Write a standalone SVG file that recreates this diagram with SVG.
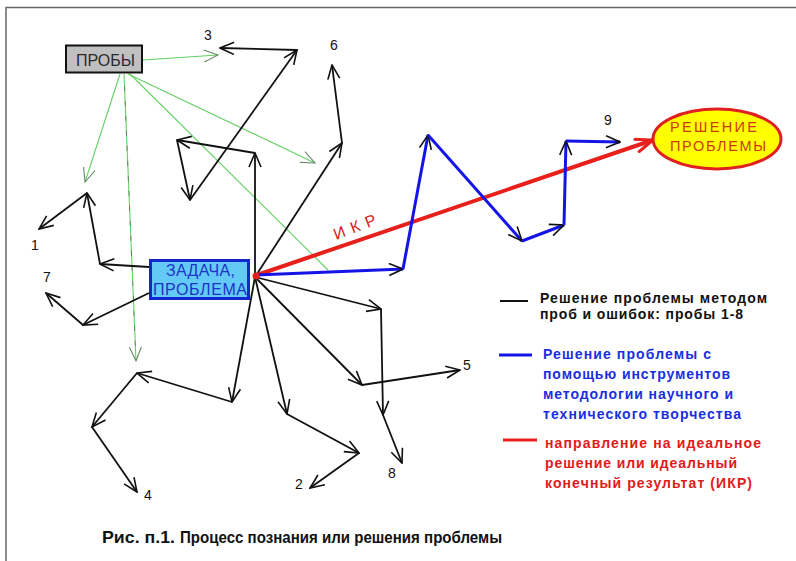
<svg xmlns="http://www.w3.org/2000/svg" width="796" height="561" viewBox="0 0 796 561">
<style>
text{font-family:"Liberation Sans",Arial,sans-serif}
.blk{stroke:#111;stroke-width:1.8;fill:none;marker-end:url(#ah)}
.blu{stroke:#1414e6;stroke-width:3;fill:none;marker-end:url(#ah)}
.grn{stroke:#62d062;stroke-width:1.1;fill:none}
.num{font-size:14px;fill:#111;text-anchor:middle}
.lg{font-size:14px;font-weight:bold}
</style>
<defs>
<marker id="ah" viewBox="0 0 16 14" refX="15" refY="7" markerWidth="16" markerHeight="14" orient="auto" markerUnits="userSpaceOnUse">
<path d="M1,1 L15,7 L1,13" fill="none" stroke="#111" stroke-width="1.6"/>
</marker>
<marker id="ahg" viewBox="0 0 16 14" refX="15" refY="7" markerWidth="16" markerHeight="14" orient="auto" markerUnits="userSpaceOnUse">
<path d="M1,1 L15,7 L1,13" fill="none" stroke="#6a8a6a" stroke-width="1.1"/>
</marker>
<marker id="ahr" viewBox="0 0 20 16" refX="19" refY="8" markerWidth="20" markerHeight="16" orient="auto" markerUnits="userSpaceOnUse">
<path d="M1,1 L19,8 L1,15" fill="none" stroke="#e8201c" stroke-width="3"/>
</marker>
</defs>
<rect width="796" height="561" fill="#fff"/>
<g id="frame" stroke="#666" stroke-width="1.5" fill="none">
<path d="M6,561 V7.5 H796"/>
</g>
<g id="connectors">
<g id="green-lines">
<line class="grn" x1="143" y1="60" x2="218" y2="55" marker-end="url(#ahg)"/>
<line class="grn" x1="120" y1="74" x2="85" y2="182" marker-end="url(#ahg)"/>
<line class="grn" x1="124" y1="74" x2="136" y2="361" marker-end="url(#ahg)"/>
<line x1="124.5" y1="86" x2="135.5" y2="350" stroke="#555" stroke-width="1" stroke-dasharray="5 10" opacity="0.6"/>
<line class="grn" x1="128" y1="74" x2="315" y2="163" marker-end="url(#ahg)"/>
<line class="grn" x1="130" y1="74" x2="328" y2="270"/>
</g>
<g id="trial-1">
<line class="blk" x1="149" y1="267" x2="100" y2="264"/>
<line class="blk" x1="100" y1="264" x2="87" y2="193"/>
<line class="blk" x1="87" y1="193" x2="39" y2="229"/>
</g>
<g id="trial-7">
<line class="blk" x1="149" y1="293" x2="83" y2="325"/>
<line class="blk" x1="83" y1="325" x2="46" y2="293"/>
</g>
<g id="trial-4">
<line class="blk" x1="255" y1="277" x2="232" y2="402"/>
<line class="blk" x1="232" y1="402" x2="137" y2="373"/>
<line class="blk" x1="137" y1="373" x2="92" y2="427"/>
<line class="blk" x1="92" y1="427" x2="137" y2="492"/>
</g>
<g id="trial-2">
<line class="blk" x1="255" y1="277" x2="287" y2="414"/>
<line class="blk" x1="287" y1="414" x2="359" y2="453"/>
<line class="blk" x1="359" y1="453" x2="310" y2="488"/>
</g>
<g id="trial-5">
<line class="blk" x1="255" y1="277" x2="362" y2="385"/>
<line class="blk" x1="362" y1="385" x2="460" y2="370"/>
</g>
<g id="trial-8">
<line class="blk" x1="255" y1="277" x2="381" y2="309"/>
<line class="blk" x1="381" y1="309" x2="383" y2="415"/>
<line class="blk" x1="383" y1="415" x2="402" y2="463"/>
</g>
<g id="trial-3">
<line class="blk" x1="255" y1="277" x2="255" y2="153"/>
<line class="blk" x1="255" y1="153" x2="177" y2="140"/>
<line class="blk" x1="177" y1="140" x2="190" y2="200"/>
<line class="blk" x1="190" y1="200" x2="297" y2="50"/>
<line class="blk" x1="297" y1="50" x2="220" y2="48"/>
</g>
<g id="trial-6">
<line class="blk" x1="255" y1="277" x2="342" y2="143"/>
<line class="blk" x1="342" y1="143" x2="332" y2="65"/>
</g>
<g id="ikr-line">
<line x1="257" y1="275" x2="653" y2="140" stroke="#e8201c" stroke-width="4" marker-end="url(#ahr)"/>
<text x="336" y="240" transform="rotate(-21 336 240)" font-size="16" fill="#d42020" letter-spacing="1">И К Р</text>
</g>
<g id="method-path">
<line class="blu" x1="256" y1="275" x2="403" y2="269"/>
<line class="blu" x1="403" y1="269" x2="428" y2="135"/>
<line class="blu" x1="428" y1="135" x2="522" y2="241"/>
<line class="blu" x1="522" y1="241" x2="564" y2="225"/>
<line class="blu" x1="564" y1="225" x2="566" y2="141"/>
<line class="blu" x1="566" y1="141" x2="620" y2="142"/>
</g>
</g>
<g id="node-proby">
<rect x="66" y="45.5" width="76" height="27" fill="#c0c0c0" stroke="#111" stroke-width="2"/>
<text x="76" y="66" font-size="16" fill="#2a2a2a" textLength="59" lengthAdjust="spacing">ПРОБЫ</text>
</g>
<g id="node-zadacha">
<rect x="150.5" y="260.5" width="98" height="38" fill="#63c9f5" stroke="#1228cc" stroke-width="3"/>
<text x="166" y="276" font-size="16" fill="#1c35c8" textLength="69" lengthAdjust="spacing">ЗАДАЧА,</text>
<text x="153" y="295" font-size="16" fill="#1c35c8" textLength="94" lengthAdjust="spacing">ПРОБЛЕМА</text>
</g>
<circle id="start-point" cx="256" cy="276" r="3.5" fill="#e8201c"/>
<g id="node-solution">
<ellipse cx="717" cy="139" rx="64" ry="30" fill="#ffff00" stroke="#e02020" stroke-width="3"/>
<text x="670" y="132" font-size="14.5" fill="#cc3a12" textLength="87" lengthAdjust="spacing">РЕШЕНИЕ</text>
<text x="670" y="151" font-size="14.5" fill="#cc3a12" textLength="96" lengthAdjust="spacing">ПРОБЛЕМЫ</text>
</g>
<g id="labels">
<text class="num" x="35" y="250">1</text>
<text class="num" x="299" y="489">2</text>
<text class="num" x="208" y="40">3</text>
<text class="num" x="148" y="500">4</text>
<text class="num" x="467" y="370">5</text>
<text class="num" x="334" y="50">6</text>
<text class="num" x="47" y="282">7</text>
<text class="num" x="392" y="478">8</text>
<text class="num" x="608" y="125">9</text>
</g>
<g id="legend">
<line x1="500" y1="301" x2="528" y2="301" stroke="#111" stroke-width="2"/>
<text class="lg" x="540" y="303" fill="#111" textLength="227" lengthAdjust="spacing">Решение проблемы методом</text>
<text class="lg" x="540" y="319" fill="#111" textLength="203" lengthAdjust="spacing">проб и ошибок: пробы 1-8</text>
<line x1="499" y1="355" x2="532" y2="355" stroke="#1414e6" stroke-width="3"/>
<text class="lg" x="543" y="359" fill="#1a2ee0" textLength="168" lengthAdjust="spacing">Решение проблемы с</text>
<text class="lg" x="543" y="379" fill="#1a2ee0" textLength="187" lengthAdjust="spacing">помощью инструментов</text>
<text class="lg" x="543" y="399" fill="#1a2ee0" textLength="190" lengthAdjust="spacing">методологии научного и</text>
<text class="lg" x="543" y="419" fill="#1a2ee0" textLength="198" lengthAdjust="spacing">технического творчества</text>
<line x1="503" y1="440" x2="537" y2="440" stroke="#e8201c" stroke-width="3"/>
<text class="lg" x="545" y="448" fill="#e01a1a" textLength="216" lengthAdjust="spacing">направление на идеальное</text>
<text class="lg" x="545" y="468" fill="#e01a1a" textLength="192" lengthAdjust="spacing">решение или идеальный</text>
<text class="lg" x="545" y="488" fill="#e01a1a" textLength="207" lengthAdjust="spacing">конечный результат (ИКР)</text>
</g>
<g id="caption">
<text x="102" y="543" font-size="17" font-weight="bold" fill="#111" textLength="73" lengthAdjust="spacingAndGlyphs">Рис. п.1.</text>
<text x="180" y="543" font-family="'Liberation Sans Narrow','Liberation Sans',Arial,sans-serif" font-size="16" font-weight="bold" fill="#111" textLength="322" lengthAdjust="spacingAndGlyphs">Процесс познания или решения проблемы</text>
</g>
</svg>
